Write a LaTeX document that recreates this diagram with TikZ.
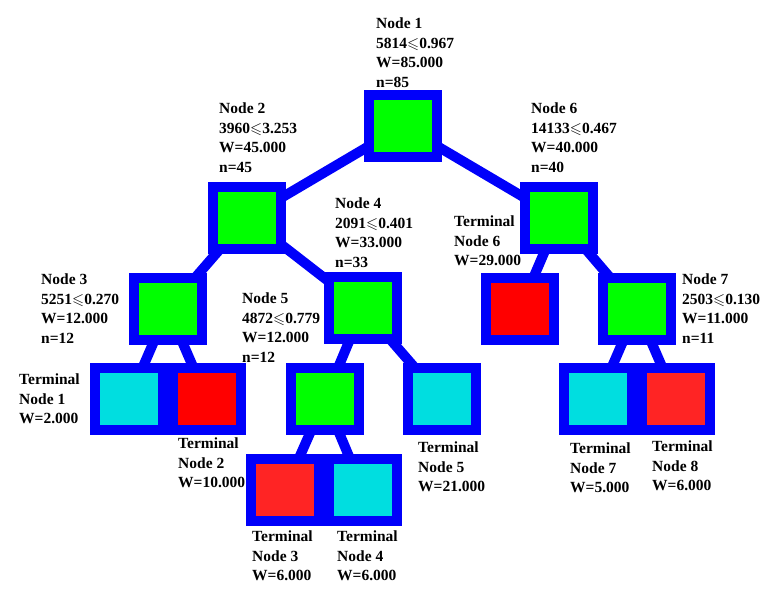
\documentclass[tikz,border=0pt]{standalone}
\usepackage{fontspec}
\setmainfont{Liberation Serif}
\usepackage{amssymb}
\usetikzlibrary{backgrounds}

\definecolor{treeblue}{RGB}{0,0,250}
\definecolor{splitgreen}{RGB}{0,255,0}
\definecolor{leafcyan}{RGB}{0,222,224}
\definecolor{leafred}{RGB}{255,0,0}
\definecolor{leafredlt}{RGB}{255,36,36}

\tikzset{
  splitbox/.style={draw=treeblue, line width=10pt, fill=splitgreen,
                   minimum width=68pt, minimum height=62pt, inner sep=0pt},
  cyanbox/.style={splitbox, fill=leafcyan},
  redbox/.style={splitbox, fill=leafred},
  redltbox/.style={splitbox, fill=leafredlt},
  link/.style={draw=treeblue, line width=10pt},
  lab/.style={anchor=north west, align=left, inner sep=0pt,
              font=\fontsize{15.5}{19.5}\selectfont\bfseries}
}

\begin{document}
\begin{tikzpicture}[x=1pt, y=-1pt]
  \useasboundingbox (0,0) rectangle (779,602);

  % split nodes
  \node[splitbox] (n1) at (403,126) {};
  \node[splitbox] (n2) at (247,218) {};
  \node[splitbox] (n6) at (559,218) {};
  \node[splitbox] (n3) at (168,309) {};
  \node[splitbox] (n4) at (363,308) {};
  \node[splitbox] (n7) at (637,309) {};
  \node[splitbox] (n5) at (325,399) {};

  % terminal nodes
  \node[cyanbox]  (t1) at (129,399) {};
  \node[redbox]   (t2) at (207,399) {};
  \node[redltbox] (t3) at (285,490) {};
  \node[cyanbox]  (t4) at (363,490) {};
  \node[cyanbox]  (t5) at (442,399) {};
  \node[redbox]   (t6) at (520,309) {};
  \node[cyanbox]  (t7) at (598,399) {};
  \node[redltbox] (t8) at (676,399) {};

  % branches
  \begin{pgfonlayer}{background}
    \draw[link] (n1.center) -- (n2.center);
    \draw[link] (n1.center) -- (n6.center);
    \draw[link] (n2.center) -- (n3.center);
    \draw[link] (n2.center) -- (n4.center);
    \draw[link] (n3.center) -- (t1.center);
    \draw[link] (n3.center) -- (t2.center);
    \draw[link] (n4.center) -- (n5.center);
    \draw[link] (n4.center) -- (t5.center);
    \draw[link] (n5.center) -- (t3.center);
    \draw[link] (n5.center) -- (t4.center);
    \draw[link] (n6.center) -- (t6.center);
    \draw[link] (n6.center) -- (n7.center);
    \draw[link] (n7.center) -- (t7.center);
    \draw[link] (n7.center) -- (t8.center);
  \end{pgfonlayer}

  % split labels
  \node[lab] (lab1) at (376,18)  {Node 1\\5814$\leqslant$0.967\\W=85.000\\n=85};
  \node[lab] (lab2) at (219,103) {Node 2\\3960$\leqslant$3.253\\W=45.000\\n=45};
  \node[lab] (lab6) at (531,103) {Node 6\\14133$\leqslant$0.467\\W=40.000\\n=40};
  \node[lab] (lab4) at (335,198) {Node 4\\2091$\leqslant$0.401\\W=33.000\\n=33};
  \node[lab] (lab3) at (41,274)  {Node 3\\5251$\leqslant$0.270\\W=12.000\\n=12};
  \node[lab] (lab5) at (242,293) {Node 5\\4872$\leqslant$0.779\\W=12.000\\n=12};
  \node[lab] (lab7) at (682,274) {Node 7\\2503$\leqslant$0.130\\W=11.000\\n=11};

  % terminal labels
  \node[lab] (tlab1) at (19,374)  {Terminal\\Node 1\\W=2.000};
  \node[lab] (tlab2) at (178,438) {Terminal\\Node 2\\W=10.000};
  \node[lab] (tlab3) at (252,531) {Terminal\\Node 3\\W=6.000};
  \node[lab] (tlab4) at (337,531) {Terminal\\Node 4\\W=6.000};
  \node[lab] (tlab5) at (418,442) {Terminal\\Node 5\\W=21.000};
  \node[lab] (tlab6) at (454,216) {Terminal\\Node 6\\W=29.000};
  \node[lab] (tlab7) at (570,443) {Terminal\\Node 7\\W=5.000};
  \node[lab] (tlab8) at (652,441) {Terminal\\Node 8\\W=6.000};
\end{tikzpicture}
\end{document}
